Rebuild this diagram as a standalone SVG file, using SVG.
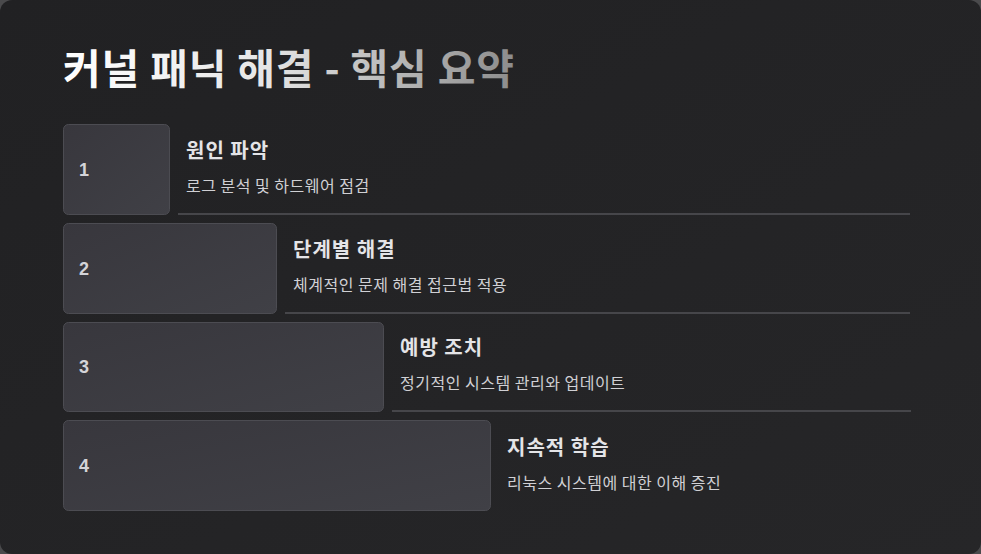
<svg xmlns="http://www.w3.org/2000/svg" width="981" height="554" viewBox="0 0 981 554">
<defs>
<linearGradient id="bg" x1="0" y1="0" x2="1" y2="1">
<stop offset="0" stop-color="#212123"/>
<stop offset="1" stop-color="#262628"/>
</linearGradient>
<linearGradient id="tg" gradientUnits="userSpaceOnUse" x1="63" y1="0" x2="515" y2="0">
<stop offset="0" stop-color="#ffffff"/>
<stop offset="0.45" stop-color="#e6e6e6"/>
<stop offset="1" stop-color="#8c8c8c"/>
</linearGradient>
<linearGradient id="bx" x1="0" y1="0" x2="1" y2="1">
<stop offset="0" stop-color="#38373d"/>
<stop offset="1" stop-color="#404046"/>
</linearGradient>
</defs>
<style>
.box{fill:url(#bx);stroke:#4c4c52;stroke-width:1}
.num{font-family:"Liberation Sans",Arial,sans-serif;font-weight:bold;font-size:18px;fill:#d4d4d8}
.ttl{font-family:"Noto Sans CJK KR","Noto Sans",sans-serif;font-weight:bold;font-size:20px;letter-spacing:1px;fill:#e4e4e7}
.sub{font-family:"Noto Sans CJK KR","Noto Sans",sans-serif;font-size:16px;letter-spacing:0.5px;fill:#d0d0d4}
.sep{stroke:#46464a;stroke-width:2}
</style>
<rect x="0" y="0" width="981" height="554" fill="#4a4a4c"/>
<rect x="0" y="0" width="981" height="554" rx="12" fill="url(#bg)"/>
<text x="63" y="84" font-family="Noto Sans CJK KR,Noto Sans,sans-serif" font-weight="bold" font-size="41" letter-spacing="0.8" fill="url(#tg)">커널 패닉 해결 - 핵심 요약</text>
<g id="connectors">
<line class="sep" x1="178" y1="214" x2="910" y2="214"/>
<line class="sep" x1="285" y1="313" x2="910" y2="313"/>
<line class="sep" x1="392" y1="411" x2="911" y2="411"/>
</g>
<g id="step1">
<rect class="box" x="63.5" y="124.5" width="106" height="90" rx="5"/>
<text class="num" x="79" y="176">1</text>
<text class="ttl" x="186" y="158">원인 파악</text>
<text class="sub" x="186" y="192">로그 분석 및 하드웨어 점검</text>
</g>
<g id="step2">
<rect class="box" x="63.5" y="223.5" width="213" height="90" rx="5"/>
<text class="num" x="79" y="275">2</text>
<text class="ttl" x="293" y="257">단계별 해결</text>
<text class="sub" x="293" y="291">체계적인 문제 해결 접근법 적용</text>
</g>
<g id="step3">
<rect class="box" x="63.5" y="322.5" width="320" height="89" rx="5"/>
<text class="num" x="79" y="373">3</text>
<text class="ttl" x="400" y="355">예방 조치</text>
<text class="sub" x="400" y="389">정기적인 시스템 관리와 업데이트</text>
</g>
<g id="step4">
<rect class="box" x="63.5" y="420.5" width="427" height="90" rx="5"/>
<text class="num" x="79" y="472">4</text>
<text class="ttl" x="507" y="455">지속적 학습</text>
<text class="sub" x="507" y="489">리눅스 시스템에 대한 이해 증진</text>
</g>
</svg>
